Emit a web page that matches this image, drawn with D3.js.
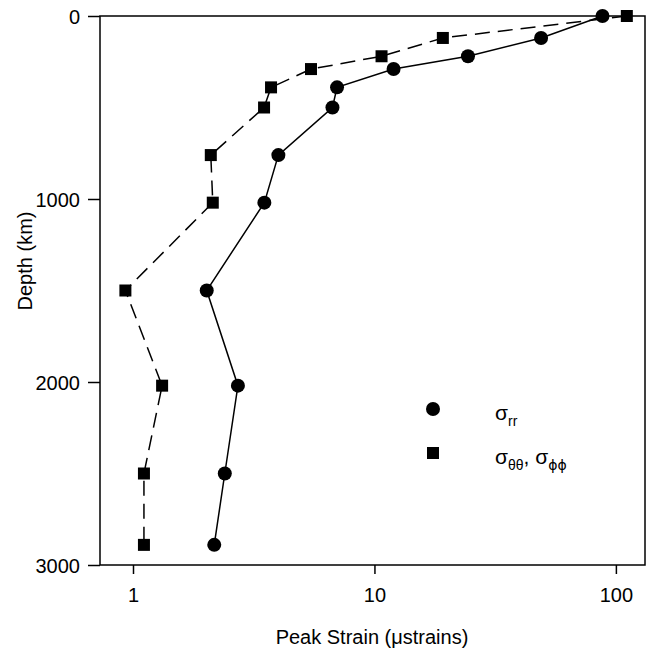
<!DOCTYPE html>
<html>
<head>
<meta charset="utf-8">
<script src="https://cdn.jsdelivr.net/npm/d3@7"></script>
<style>
body { margin: 0; background: #fff; }
text { font-family: "Liberation Sans", Arial, sans-serif; fill: #000; }
</style>
</head>
<body>
<div id="chart"></div>
<script>
// depth of each sample, km
var depths = [0, 120, 220, 290, 390, 500, 760, 1020, 1500, 2020, 2500, 2890];
// peak strain sigma_rr (circles)
var strainRR = [88, 49, 24.4, 12.0, 7.0, 6.7, 4.0, 3.5, 2.02, 2.72, 2.4, 2.17];
// peak strain sigma_thth, sigma_phph (squares)
var strainTT = [111, 19.2, 10.7, 5.46, 3.73, 3.49, 2.1, 2.14, 0.93, 1.32, 1.11, 1.11];
var xTicks = [1, 10, 100];
var yTicks = [0, 1000, 2000, 3000];

var w = 652, h = 649;
// plot box, pixels
var mLeft = 100, mRight = 645, mTop = 16, mBottom = 565;

var svg = d3.select("#chart").append("svg")
  .attr("width", w)
  .attr("height", h);

var x = d3.scaleLog().domain([0.73, 132]).range([mLeft, mRight]);
var y = d3.scaleLinear().domain([0, 3000]).range([mTop, mBottom]);

// frame
svg.append("rect")
  .attr("x", mLeft).attr("y", mTop)
  .attr("width", mRight - mLeft).attr("height", mBottom - mTop)
  .attr("fill", "none").attr("stroke", "#000").attr("stroke-width", 1.5);

// axes
var xAxis = svg.append("g")
  .attr("transform", "translate(0," + mBottom + ")")
  .call(d3.axisBottom(x).tickValues(xTicks).tickFormat(d3.format("d")).tickSize(9).tickPadding(14));
var yAxis = svg.append("g")
  .attr("transform", "translate(" + mLeft + ",0)")
  .call(d3.axisLeft(y).tickValues(yTicks).tickFormat(d3.format("d")).tickSize(12).tickPadding(8));
[xAxis, yAxis].forEach(function(a) {
  a.select(".domain").remove();
  a.selectAll("line").attr("stroke", "#000").attr("stroke-width", 1.5);
  a.selectAll("text").style("font-size", "20px").style("font-family", "Liberation Sans, Arial, sans-serif");
});
yAxis.selectAll("text").attr("dy", "0.36em");

// axis titles
svg.append("text")
  .attr("x", 372).attr("y", 644)
  .attr("text-anchor", "middle")
  .style("font-size", "20px")
  .text("Peak Strain (\u03bcstrains)");
svg.append("text")
  .attr("transform", "translate(32,261) rotate(-90)")
  .attr("text-anchor", "middle")
  .style("font-size", "20px")
  .text("Depth (km)");

var rr = depths.map(function(d, i) { return { depth: d, v: strainRR[i] }; });
var tt = depths.map(function(d, i) { return { depth: d, v: strainTT[i] }; });

var line = d3.line()
  .x(function(d) { return x(d.v); })
  .y(function(d) { return y(d.depth); });

svg.append("path").datum(tt)
  .attr("d", line)
  .attr("fill", "none").attr("stroke", "#000").attr("stroke-width", 1.5)
  .attr("stroke-dasharray", "15,8");
svg.append("path").datum(rr)
  .attr("d", line)
  .attr("fill", "none").attr("stroke", "#000").attr("stroke-width", 1.5);

var s = 12;
svg.selectAll(".sq").data(tt).enter().append("rect")
  .attr("class", "sq")
  .attr("x", function(d) { return x(d.v) - s / 2; })
  .attr("y", function(d) { return y(d.depth) - s / 2; })
  .attr("width", s).attr("height", s)
  .attr("fill", "#000");
svg.selectAll(".ci").data(rr).enter().append("circle")
  .attr("class", "ci")
  .attr("cx", function(d) { return x(d.v); })
  .attr("cy", function(d) { return y(d.depth); })
  .attr("r", 7)
  .attr("fill", "#000");

// legend
svg.append("circle").attr("cx", 433).attr("cy", 409).attr("r", 7).attr("fill", "#000");
svg.append("rect").attr("x", 427).attr("y", 447).attr("width", s).attr("height", s).attr("fill", "#000");

var l1 = svg.append("text").attr("x", 495).attr("y", 420).style("font-size", "21px");
l1.append("tspan").text("\u03c3");
l1.append("tspan").attr("dy", 6).style("font-size", "14px").text("rr");

var l2 = svg.append("text").attr("x", 495).attr("y", 464).style("font-size", "21px");
l2.append("tspan").text("\u03c3");
l2.append("tspan").attr("dy", 6).style("font-size", "14px").text("\u03b8\u03b8");
l2.append("tspan").attr("dy", -6).text(", \u03c3");
l2.append("tspan").attr("dy", 6).style("font-size", "14px").style("font-family", "DejaVu Sans").text("\u03d5\u03d5");
</script>
</body>
</html>
